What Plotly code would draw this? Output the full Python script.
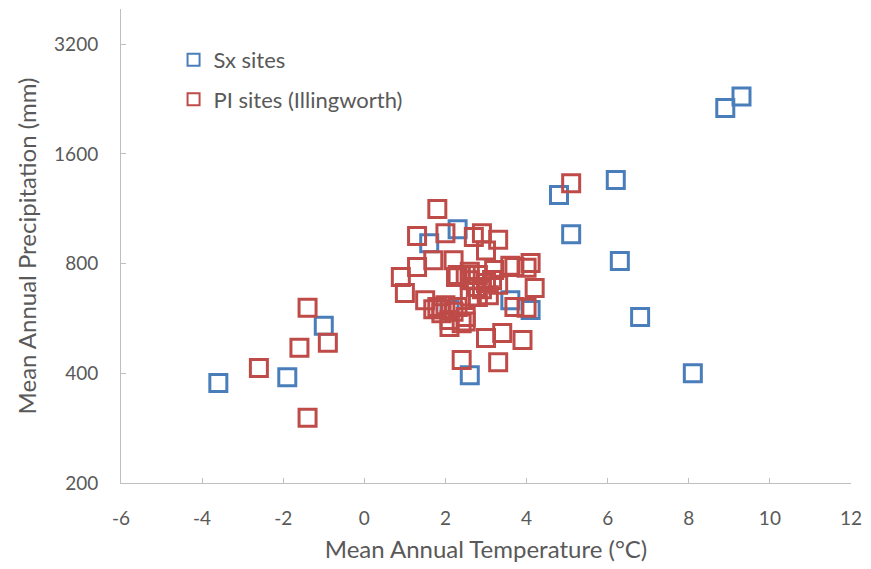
import math
import plotly.graph_objects as go

# Sx sites
sx_temp = [-3.6, -1.9, -1.0, 1.6, 2.3, 2.1, 2.6, 3.6, 4.1, 4.8, 5.1, 6.2, 6.3, 6.8, 8.1, 8.9, 9.3]
sx_prec = [376, 390, 540, 910, 995, 600, 395, 635, 597, 1235, 964, 1357, 813, 571, 400, 2140, 2300]

# PI sites (Illingworth)
pi_temp = [-2.6, -1.6, -1.4, -1.4, -0.9,
           0.9, 1.0, 1.3, 1.3, 1.5, 1.7, 1.8, 1.8, 1.9, 2.0, 2.0, 2.1, 2.2, 2.3, 2.26,
           2.3, 2.4, 2.4, 2.5, 2.7, 2.8, 2.8, 2.9, 2.75, 3.0, 3.0, 3.07, 3.15, 3.2, 3.3,
           3.0, 3.4, 3.3, 3.6, 3.7, 3.7, 3.9, 4.0, 4.0, 4.1, 4.2, 5.1,
           1.9, 2.2, 2.6, 2.9, 3.3, 2.5, 2.1, 1.7, 2.5, 2.6, 2.6]
pi_prec = [414, 470, 605, 302, 485,
           735, 665, 953, 783, 635, 818, 1130, 608, 585, 970, 615, 536, 818, 745, 735,
           608, 549, 435, 571, 947, 745, 648, 970, 690, 870, 708, 655, 721, 768, 930,
           500, 516, 429, 790, 783, 608, 494, 780, 605, 803, 686, 1330,
           600, 590, 720, 680, 700, 555, 560, 600, 745, 760, 650]

y_ticks = [200, 400, 800, 1600, 3200]
x_ticks = [-6, -4, -2, 0, 2, 4, 6, 8, 10, 12]

BLUE = "#4A7EBB"
RED = "#BE4B48"
FONT = "Lato"

fig = go.Figure()
fig.add_trace(go.Scatter(
    x=sx_temp, y=sx_prec, mode="markers", name="Sx sites", legendgroup="sx",
    marker=dict(symbol="square-open", size=17, color=BLUE, line=dict(width=3, color=BLUE)),
))
fig.add_trace(go.Scatter(
    x=pi_temp, y=pi_prec, mode="markers", name="PI sites (Illingworth)", legendgroup="pi",
    marker=dict(symbol="square-open", size=17, color=RED, line=dict(width=3, color=RED)),
))

fig.update_layout(
    width=871, height=569,
    margin=dict(l=121, r=18, t=9, b=86),
    paper_bgcolor="white", plot_bgcolor="white",
    font=dict(family=FONT, color="#595959", size=19),
    showlegend=True,
    legend=dict(x=0.072, y=0.937, xanchor="left", yanchor="top",
                bgcolor="rgba(0,0,0,0)", font=dict(size=22, color="#595959"),
                itemsizing="constant", traceorder="grouped", tracegroupgap=8,
                itemwidth=30),
    xaxis=dict(
        range=[-6, 12], tickvals=x_ticks, ticktext=[str(v) for v in x_ticks],
        showgrid=False, zeroline=False, showline=True, linecolor="#BFBFBF", linewidth=1,
        ticks="inside", ticklen=5, tickcolor="#BFBFBF",
        ticklabelstandoff=18,
        title=dict(text="Mean Annual Temperature (°C)", standoff=13, font=dict(size=24)),
    ),
    yaxis=dict(
        type="log", range=[math.log10(200), math.log10(4000)],
        tickvals=y_ticks, ticktext=[str(v) for v in y_ticks],
        showgrid=False, zeroline=False, showline=True, linecolor="#BFBFBF", linewidth=1,
        ticks="inside", ticklen=5, tickcolor="#BFBFBF",
        ticklabelstandoff=18,
        title=dict(text="Mean Annual Precipitation (mm)", standoff=10, font=dict(size=24)),
    ),
)

fig.write_html("out.html")
